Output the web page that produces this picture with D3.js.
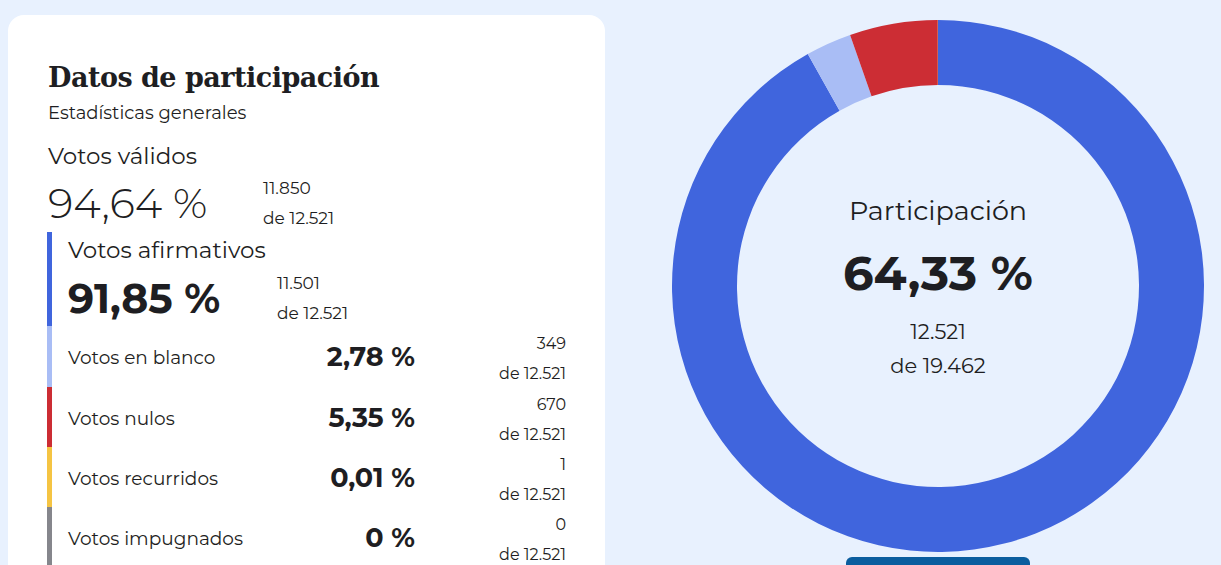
<!DOCTYPE html><html><head><meta charset="utf-8">
<script src="https://cdn.jsdelivr.net/npm/d3@7"></script>
<style>body{margin:0;background:#e8f1fe;overflow:hidden}</style></head><body>
<script>
const categories=["Votos afirmativos","Votos en blanco","Votos nulos","Votos recurridos","Votos impugnados"];
const percents=[91.85,2.78,5.35,0.01,0];
const counts=["11.501","349","670","1","0"];
const colors=["#4065dd","#a9bdf5","#cc2d34","#f5c443","#85868c"];
const totalEmitidos="12.521", padron="19.462", participacion="64,33 %";
const validosPct="94,64 %", validosCount="11.850";
const fmt=v=>(v===0?"0":d3.format(".2f")(v).replace(".",","))+" %";
const F="Montserrat, Inter, 'Open Sans', sans-serif";
const svg=d3.select("body").append("svg").attr("width",1221).attr("height",565);
svg.append("rect").attr("x",8).attr("y",15).attr("width",597).attr("height",600).attr("rx",16).attr("fill","#fff");
const t=(x,y,s,size,w,anchor,fam)=>svg.append("text").attr("x",x).attr("y",y).text(s).attr("font-size",size).attr("font-weight",w||400).attr("text-anchor",anchor||"start").attr("font-family",fam||F).attr("fill","#1e1e22");
t(48,87,"Datos de participación",27,700,"start","'DejaVu Serif', serif").attr("letter-spacing",-0.5);
t(48,119,"Estadísticas generales",18);
t(48,164,"Votos válidos",23);
t(48,218,validosPct,42,300);
t(263,194,validosCount,17);t(263,224,"de "+totalEmitidos,17);
// left bar
const y=d3.scaleOrdinal().domain(categories).range([232,326,387,447,507]);
const h=[94,61,60,60,60];
categories.forEach((c,i)=>svg.append("rect").attr("x",47).attr("y",y(c)).attr("width",5).attr("height",h[i]).attr("fill",colors[i]));
t(68,258,categories[0],23);
t(68,313,fmt(percents[0]),41,700);
t(277,289,counts[0],17);t(277,319,"de "+totalEmitidos,17);
categories.slice(1).forEach((c,j)=>{const i=j+1,yy=y(c);
 t(68,yy+38,c,18.5);
 t(415,yy+40,fmt(percents[i]),27,700,"end");
 t(566,yy+23,counts[i],16,400,"end");t(566,yy+53,"de "+totalEmitidos,16,400,"end");});
// donut
const g=svg.append("g").attr("transform","translate(938,286)");
const pie=d3.pie().sort(null).value(d=>d)(percents);
const arc=d3.arc().innerRadius(201).outerRadius(266);
g.selectAll("path").data(pie).enter().append("path").attr("d",arc).attr("fill",(d,i)=>colors[i]);
const ct=(yy,s,size,w)=>g.append("text").attr("y",yy).attr("text-anchor","middle").text(s).attr("font-size",size).attr("font-weight",w).attr("font-family",F).attr("fill","#1e1e22");
ct(-66,"Participación",27,400);ct(4,participacion,48,700);ct(53,totalEmitidos,21,400);ct(87,"de "+padron,21,400);
svg.append("rect").attr("x",846).attr("y",557).attr("width",184).attr("height",30).attr("rx",6).attr("fill","#0a5d9e");
</script></body></html>
